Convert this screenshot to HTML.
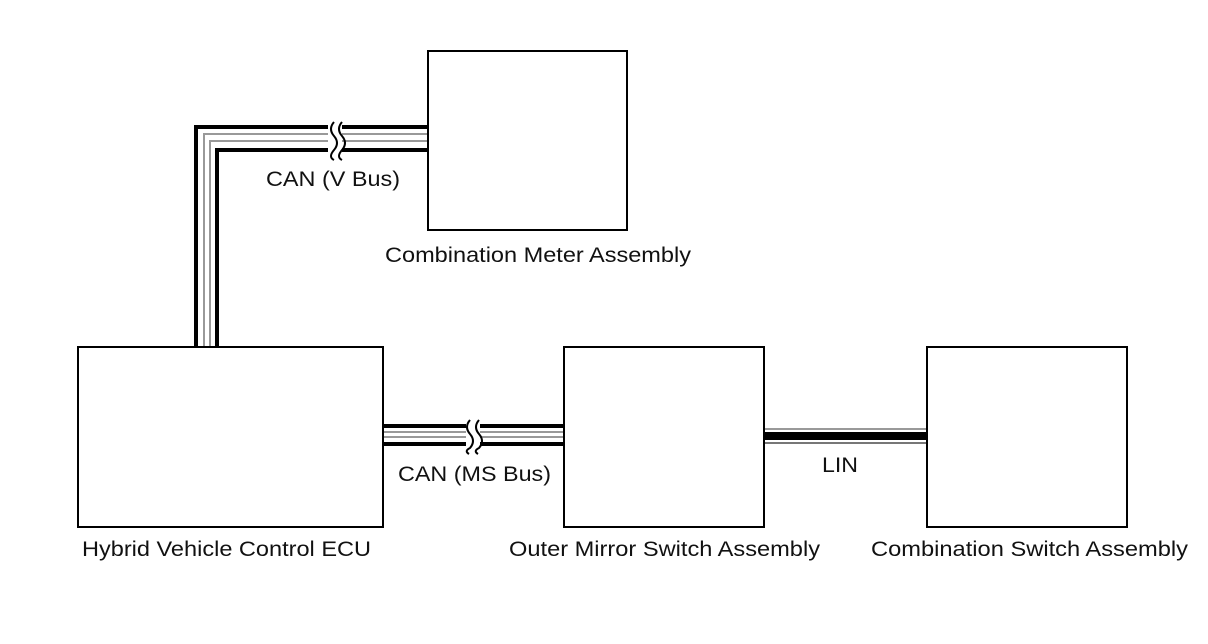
<!DOCTYPE html>
<html><head><meta charset="utf-8"><style>
body{margin:0;background:#fff;}
svg{display:block}
text{font-family:"Liberation Sans",sans-serif;font-size:21px;fill:#111}
</style></head><body>
<svg width="1208" height="644" viewBox="0 0 1208 644">
<g fill="none" stroke-linejoin="miter">
<path d="M196 347 V127 H428" stroke="#000" stroke-width="4"/>
<path d="M204 347 V134 H428" stroke="#999" stroke-width="2"/>
<path d="M210 347 V141 H428" stroke="#999" stroke-width="2"/>
<path d="M217 347 V150 H428" stroke="#000" stroke-width="4"/>
<rect x="328" y="118" width="14" height="40" fill="#fff" stroke="none"/>
<path d="M334 122 q-6 7 0 14 q6 7 0 14 q-6 7 0 10 M342 122 q-6 7 0 14 q6 7 0 14 q-6 7 0 10" stroke="#000" stroke-width="2"/>
<path d="M383 426 H564" stroke="#000" stroke-width="4"/>
<path d="M383 432 H564" stroke="#999" stroke-width="2"/>
<path d="M383 437 H564" stroke="#999" stroke-width="2"/>
<path d="M383 444 H564" stroke="#000" stroke-width="4"/>
<rect x="466" y="418" width="14" height="34" fill="#fff" stroke="none"/>
<path d="M470 420 q-6 7 0 14 q6 7 0 14 q-6 3 -1 6 M479 420 q-6 7 0 14 q6 7 0 14 q-6 3 -1 6" stroke="#000" stroke-width="2"/>
<path d="M764 429 H927" stroke="#999" stroke-width="2"/>
<path d="M764 436 H927" stroke="#000" stroke-width="8"/>
<path d="M764 443 H927" stroke="#777" stroke-width="2"/>
</g>
<g fill="#fff" stroke="#000" stroke-width="2">
<rect x="428" y="51" width="199" height="179"/>
<rect x="78" y="347" width="305" height="180"/>
<rect x="564" y="347" width="200" height="180"/>
<rect x="927" y="347" width="200" height="180"/>
</g>
<text x="266" y="186" textLength="134" lengthAdjust="spacingAndGlyphs">CAN (V Bus)</text>
<text x="385" y="262" textLength="306" lengthAdjust="spacingAndGlyphs">Combination Meter Assembly</text>
<text x="398" y="481" textLength="153" lengthAdjust="spacingAndGlyphs">CAN (MS Bus)</text>
<text x="822" y="472" textLength="36" lengthAdjust="spacingAndGlyphs">LIN</text>
<text x="82" y="556" textLength="289" lengthAdjust="spacingAndGlyphs">Hybrid Vehicle Control ECU</text>
<text x="509" y="556" textLength="311" lengthAdjust="spacingAndGlyphs">Outer Mirror Switch Assembly</text>
<text x="871" y="556" textLength="317" lengthAdjust="spacingAndGlyphs">Combination Switch Assembly</text>
</svg>
</body></html>
